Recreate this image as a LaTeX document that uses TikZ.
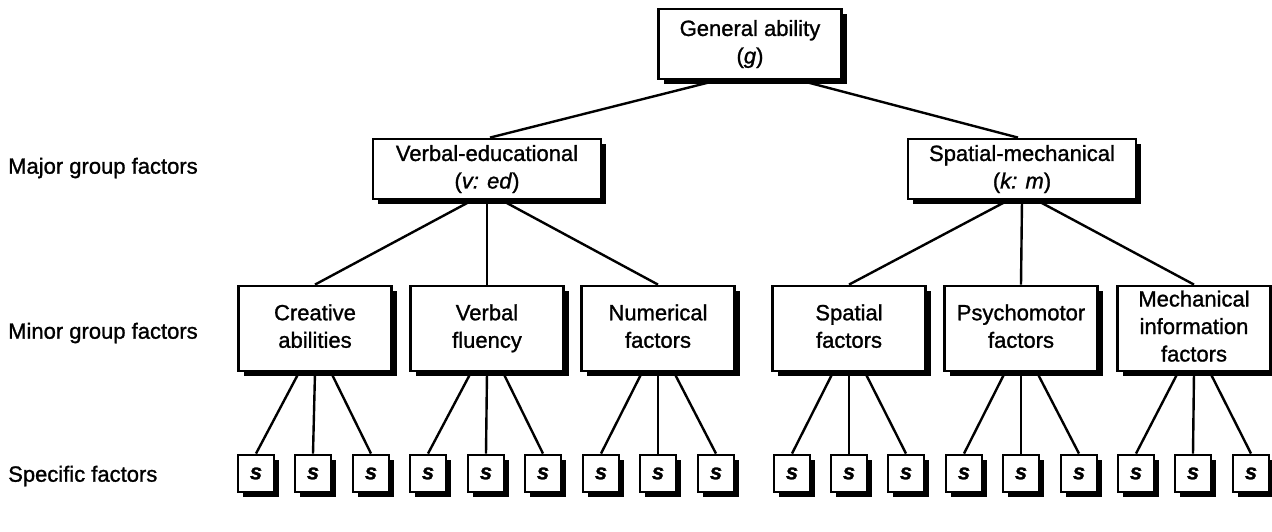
\documentclass[tikz,border=0pt]{standalone}
\usepackage{fontspec}
\setmainfont{Liberation Sans}[FakeBold=1.2]
\usetikzlibrary{shadows}
\pgfdeclarelayer{bg}
\pgfsetlayers{bg,main}
\begin{document}
\begin{tikzpicture}[x=1pt,y=-1pt,
  font=\fontsize{22}{27.5}\selectfont,
  box/.style={draw,line width=2.8pt,fill=white,inner sep=0pt,align=center,
    drop shadow={shadow xshift=5pt,shadow yshift=-5pt,fill=black,opacity=1}},
  topbox/.style={box,minimum width=183pt,minimum height=70pt},
  majorbox/.style={box,minimum width=228pt,minimum height=60pt},
  minorbox/.style={box,minimum width=153pt,minimum height=85pt},
  sbox/.style={box,minimum width=36pt,minimum height=37pt,font=\fontsize{22}{27.5}\selectfont\bfseries\itshape},
  level/.style={anchor=west,inner sep=0pt},
  link/.style={line width=2.4pt}]
\useasboundingbox (0,0) rectangle (1272,531);

% level labels
\node[level] (lmajor) at (8,168) {Major group factors};
\node[level] (lminor) at (8,333) {Minor group factors};
\node[level] (lspec)  at (8,476) {Specific factors};

% general factor
\node[topbox] (g) at (750,44) {General ability\\(\textit{g})};

% major group factors
\node[majorbox] (ved) at (487,169) {Verbal-educational\\(\textit{v: ed})};
\node[majorbox] (km)  at (1022,169) {Spatial-mechanical\\(\textit{k: m})};

% minor group factors (struts keep the lines on the same baselines)
\node[minorbox] (cre) at (315,328.5)  {Creative\strut\\abilities\strut};
\node[minorbox] (flu) at (487,328.5)  {Verbal\strut\\fluency\strut};
\node[minorbox] (num) at (658,328.5)  {Numerical\strut\\factors\strut};
\node[minorbox] (spa) at (849,328.5)  {Spatial\strut\\factors\strut};
\node[minorbox] (psy) at (1021,328.5) {Psychomotor\strut\\factors\strut};
\node[minorbox] (mec) at (1194,328.5) {Mechanical\strut\\information\strut\\factors\strut};

% specific factors, three under each minor group factor
\foreach \m/\a/\b/\c in {cre/256/313/371, flu/428/486/543, num/601/658/716,
                         spa/792/849/906, psy/964/1021/1079, mec/1136/1193/1251}{
  \node[sbox] (\m-1) at (\a,473.5) {s};
  \node[sbox] (\m-2) at (\b,473.5) {s};
  \node[sbox] (\m-3) at (\c,473.5) {s};
}

\begin{pgfonlayer}{bg}
  % general -> major
  \draw[link] ([xshift=-33pt]g.south) -- ([xshift=3pt]ved.north);
  \draw[link] ([xshift=50pt]g.south) -- ([xshift=-4pt]km.north);
  % major -> minor
  \draw[link] ([xshift=-15pt]ved.south) -- (cre.north);
  \draw[link] (ved.south) -- (flu.north);
  \draw[link] ([xshift=15pt]ved.south) -- (num.north);
  \draw[link] ([xshift=-14pt]km.south) -- (spa.north);
  \draw[link] (km.south) -- (psy.north);
  \draw[link] ([xshift=15pt]km.south) -- (mec.north);
  % minor -> specific
  \foreach \m in {cre,flu,num,spa,psy,mec}{
    \draw[link] ([xshift=-16pt]\m.south) -- (\m-1.north);
    \draw[link] (\m.south) -- (\m-2.north);
    \draw[link] ([xshift=16pt]\m.south) -- (\m-3.north);
  }
\end{pgfonlayer}
\end{tikzpicture}
\end{document}
